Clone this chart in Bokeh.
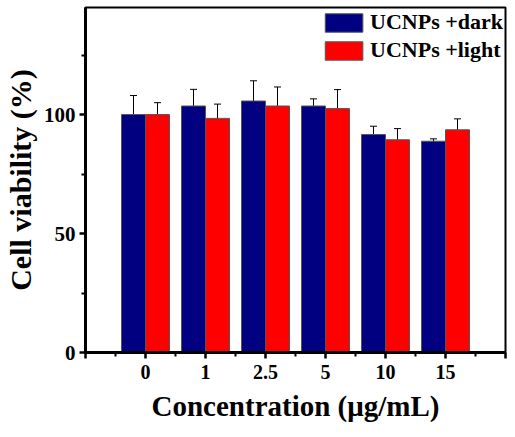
from bokeh.plotting import figure
from bokeh.models import ColumnDataSource, Whisker, TeeHead, FixedTicker, Legend, LegendItem, Range1d
from bokeh.embed import file_html
from bokeh.resources import INLINE

categories = ["0", "1", "2.5", "5", "10", "15"]
dark_vals = [100.0, 103.6, 105.7, 103.6, 91.6, 88.8]
dark_err = [8.0, 7.0, 8.5, 3.0, 3.5, 1.0]
light_vals = [100.0, 98.4, 103.6, 102.5, 89.4, 93.6]
light_err = [5.0, 6.0, 8.0, 8.0, 4.7, 4.6]

FONT = "Liberation Serif"
idx = list(range(len(categories)))
dark_x = [i - 0.2 for i in idx]
light_x = [i + 0.2 for i in idx]

src_d = ColumnDataSource(dict(x=dark_x, top=dark_vals,
                              upper=[v + e for v, e in zip(dark_vals, dark_err)],
                              lower=[v - e for v, e in zip(dark_vals, dark_err)]))
src_l = ColumnDataSource(dict(x=light_x, top=light_vals,
                              upper=[v + e for v, e in zip(light_vals, light_err)],
                              lower=[v - e for v, e in zip(light_vals, light_err)]))

p = figure(width=507, height=428, output_backend="svg", toolbar_location=None,
           x_range=Range1d(-1, 6), y_range=Range1d(0, 145),
           min_border_left=81, min_border_right=2, min_border_top=7, min_border_bottom=76)
p.xgrid.visible = False
p.ygrid.visible = False
p.outline_line_color = "black"
p.outline_line_width = 2
p.background_fill_color = "white"
p.border_fill_color = "white"

rd = p.vbar(x="x", top="top", width=0.4, bottom=0, source=src_d,
            fill_color="#000080", line_color="#555555", line_width=1)
rl = p.vbar(x="x", top="top", width=0.4, bottom=0, source=src_l,
            fill_color="#ff0000", line_color="#555555", line_width=1)

for src in (src_d, src_l):
    w = Whisker(source=src, base="x", upper="upper", lower="lower",
                line_color="black", line_width=1,
                upper_head=TeeHead(size=7, line_color="black", line_width=1),
                lower_head=TeeHead(size=7, line_color="black", line_width=1))
    p.add_layout(w)

# x axis
p.xaxis.ticker = FixedTicker(ticks=list(range(-1, 7)),
                             minor_ticks=[i + 0.5 for i in range(-1, 6)])
p.xaxis.major_label_overrides = {-1: "", 6: "", **{i: c for i, c in zip(idx, categories)}}
p.xaxis.axis_label = "Concentration (μg/mL)"

# y axis
p.yaxis.ticker = FixedTicker(ticks=[0, 50, 100], minor_ticks=[25, 75, 125])
p.yaxis.axis_label = "Cell viability (%)"

for ax in (p.xaxis[0], p.yaxis[0]):
    ax.axis_line_width = 3
    ax.axis_line_color = "black"
    ax.major_tick_line_width = 2.5
    ax.minor_tick_line_width = 2
    ax.major_tick_out = 6
    ax.major_tick_in = 0
    ax.minor_tick_out = 4
    ax.minor_tick_in = 0
    ax.major_label_text_font = FONT
    ax.major_label_text_font_style = "bold"
    ax.major_label_text_color = "black"
    ax.axis_label_text_font = FONT
    ax.axis_label_text_font_style = "bold"
    ax.axis_label_text_color = "black"

p.xaxis.major_label_text_font_size = "20px"
p.yaxis.major_label_text_font_size = "21px"
p.xaxis.axis_label_text_font_size = "29px"
p.yaxis.axis_label_text_font_size = "30px"
p.xaxis.major_label_standoff = 6
p.xaxis.axis_label_standoff = 8
p.yaxis.major_label_standoff = 4
p.yaxis.axis_label_standoff = 4

legend = Legend(items=[LegendItem(label="UCNPs +dark", renderers=[rd]),
                       LegendItem(label="UCNPs +light", renderers=[rl])],
                location="top_right")
legend.label_text_font = FONT
legend.label_text_font_style = "bold"
legend.label_text_font_size = "22px"
legend.label_text_color = "black"
legend.glyph_width = 47
legend.glyph_height = 23
legend.spacing = 2
legend.padding = 2
legend.margin = 2
legend.label_standoff = 3
legend.border_line_color = None
legend.background_fill_alpha = 0
p.add_layout(legend)

open("out.html", "w").write(file_html(p, INLINE))
